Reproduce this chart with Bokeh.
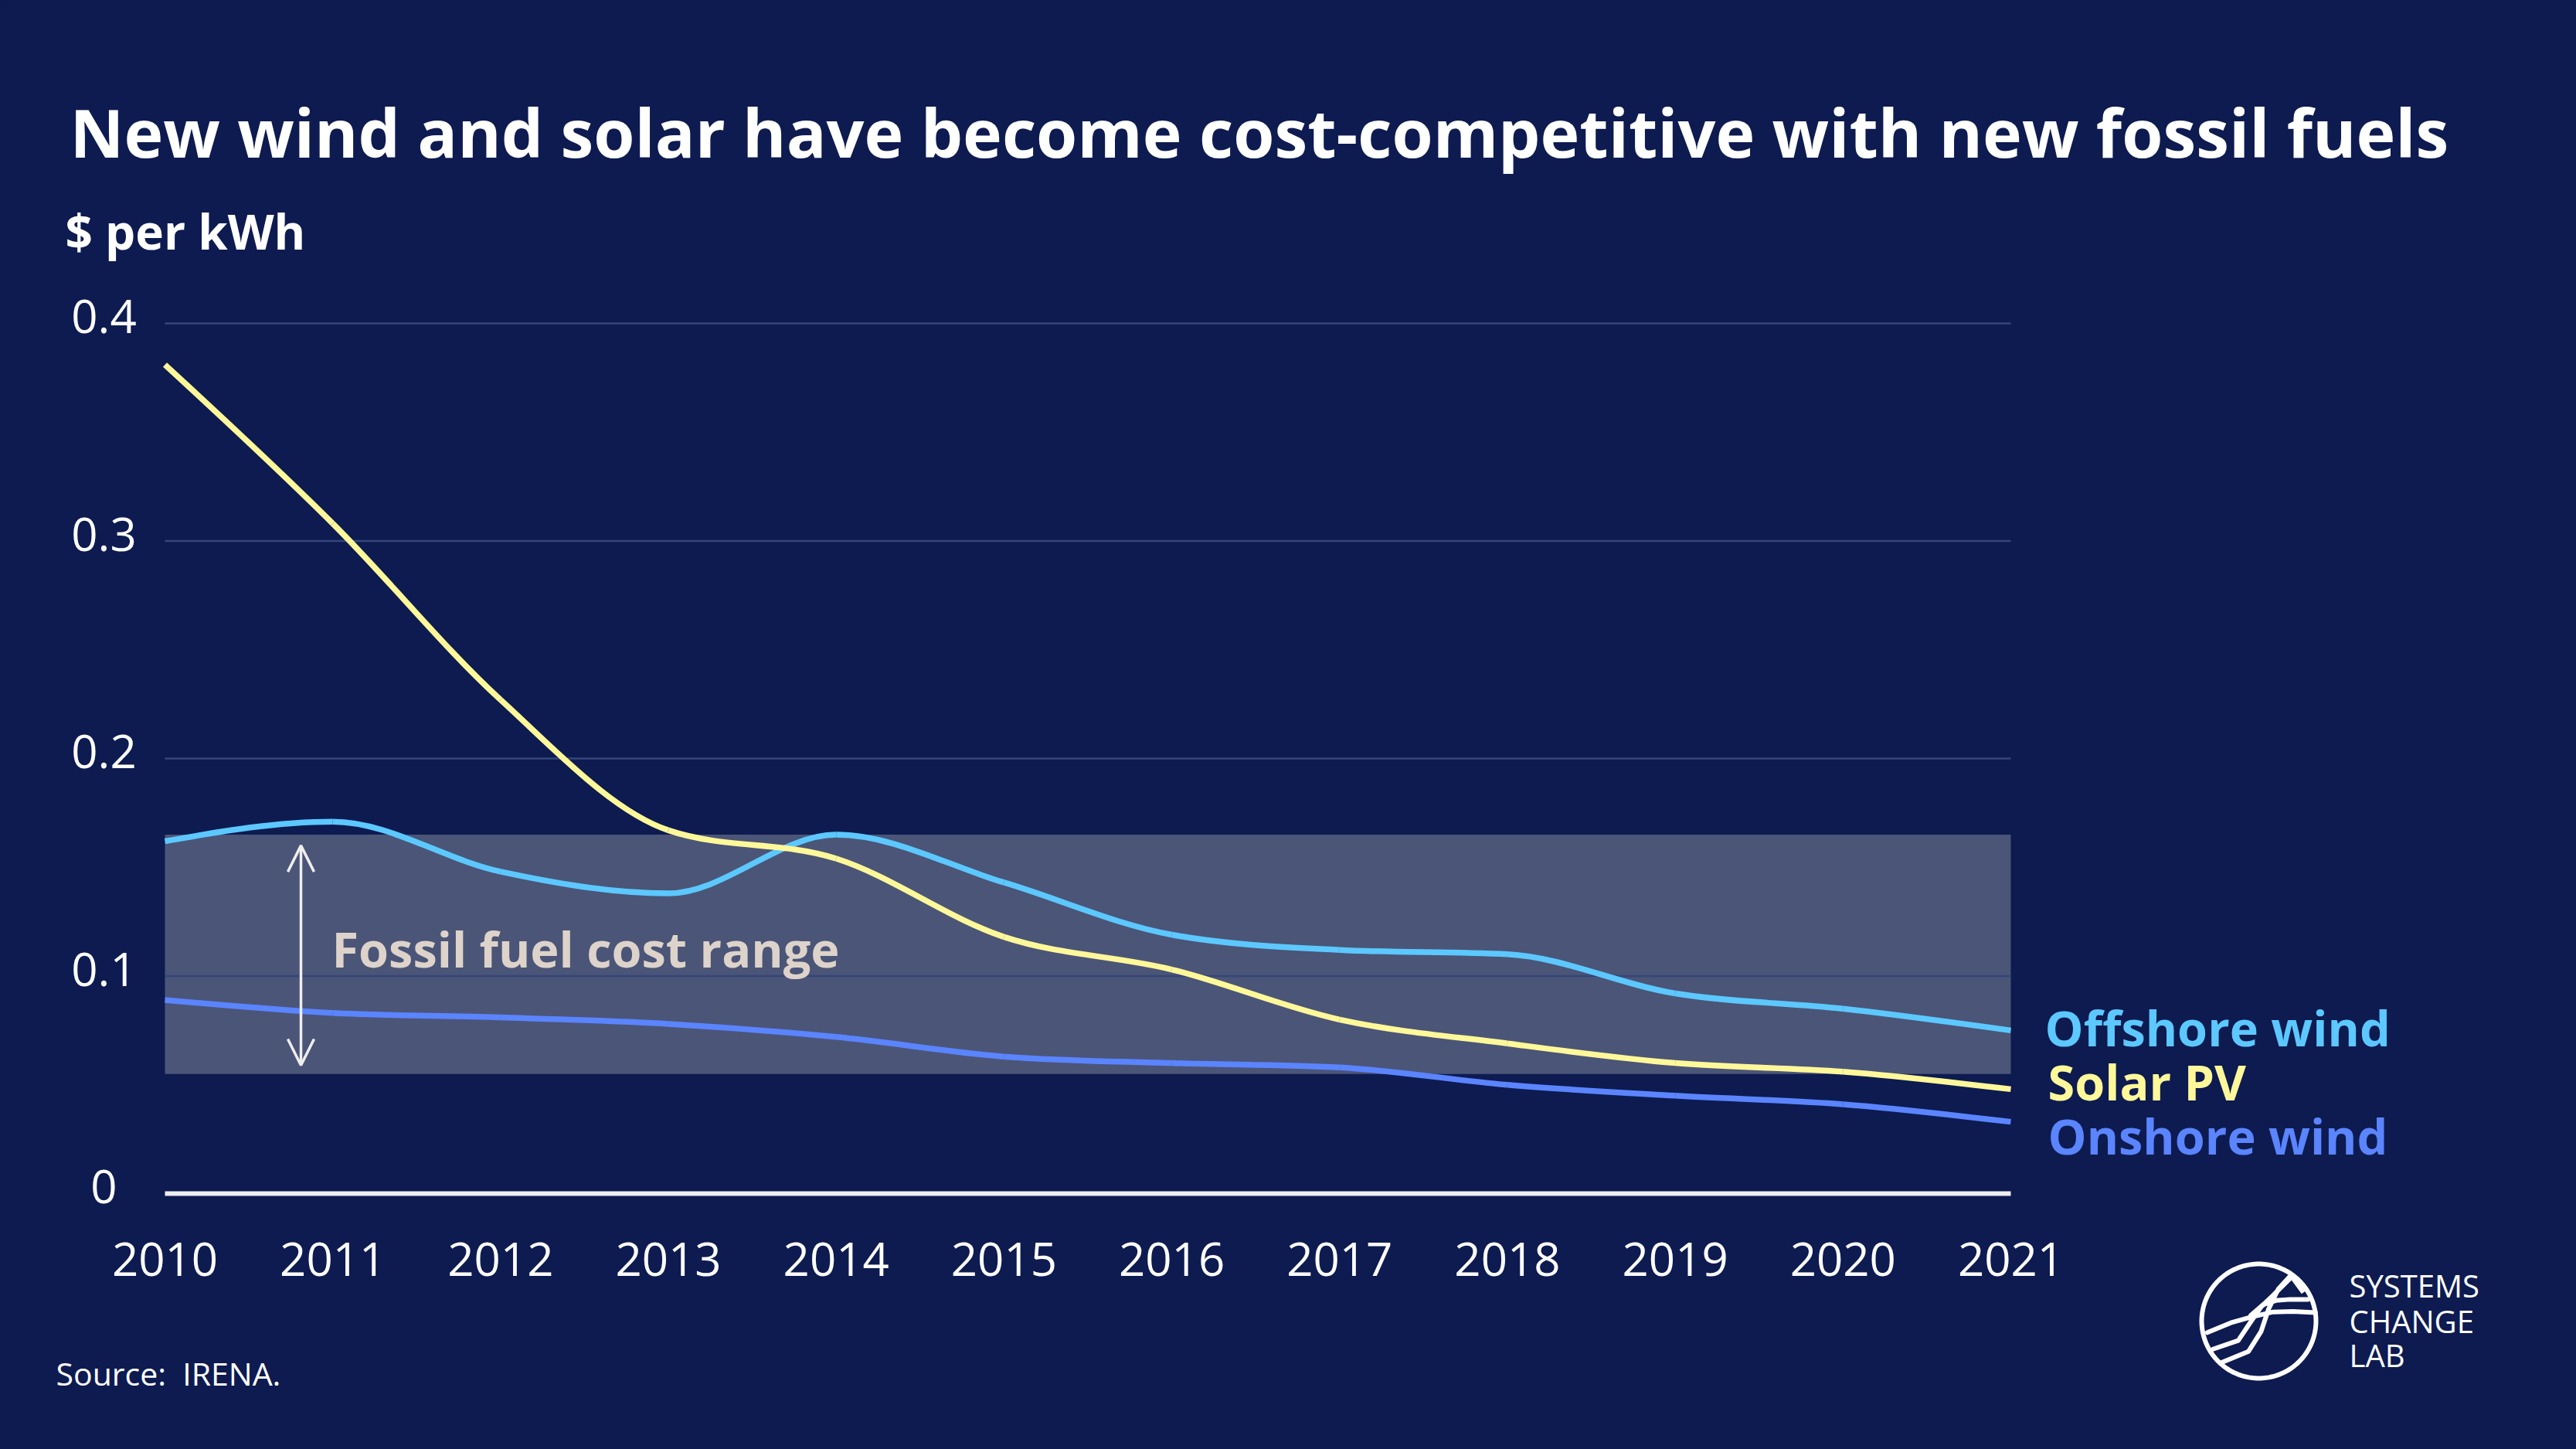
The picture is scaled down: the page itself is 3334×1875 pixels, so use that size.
import math
from bokeh.plotting import figure
from bokeh.models import Label, Arrow, OpenHead, PolyAnnotation, Range1d, ColumnDataSource
from bokeh.core.properties import value
from bokeh.embed import file_html
from bokeh.resources import INLINE

# ---------------- data ----------------
years = [2010, 2011, 2012, 2013, 2014, 2015, 2016, 2017, 2018, 2019, 2020, 2021]
year_labels = [str(y) for y in years]
solar_pv = [0.381, 0.308, 0.227, 0.167, 0.154, 0.118, 0.103, 0.080, 0.069, 0.060, 0.056, 0.048]
offshore_wind = [0.162, 0.171, 0.148, 0.138, 0.165, 0.143, 0.119, 0.112, 0.110, 0.092, 0.085, 0.075]
onshore_wind = [0.089, 0.083, 0.081, 0.078, 0.072, 0.063, 0.060, 0.058, 0.050, 0.045, 0.041, 0.033]
fossil_low = 0.055
fossil_high = 0.165
y_ticks = [0, 0.1, 0.2, 0.3, 0.4]
y_tick_labels = ["0", "0.1", "0.2", "0.3", "0.4"]
series_names = ["Offshore wind", "Solar PV", "Onshore wind"]

# ---------------- style ----------------
BG = "#0d1b50"
C_OFF = "#5cc8ff"
C_SOLAR = "#fff89a"
C_ON = "#5b84ff"
BAND = "#4b5577"
GRID = "#34467a"
FONT = "Open Sans"
BASE_FIX = 0.38   # baseline correction (fraction of font size)

W, H = 3334, 1875
# where the data axes sit on the page (pixels)
PX_X_FIRST, PX_X_LAST = 213, 2602      # 2010 .. 2021
PX_Y_ZERO, PX_Y_TOP = 1544, 418        # 0 .. 0.4
SX = (PX_X_LAST - PX_X_FIRST) / (years[-1] - years[0])
SY = (PX_Y_ZERO - PX_Y_TOP) / y_ticks[-1]


def px2x(X):
    return years[0] + (X - PX_X_FIRST) / SX


def px2y(Y):
    return (PX_Y_ZERO - Y) / SY


p = figure(width=W, height=H, output_backend="svg", toolbar_location=None,
           x_range=Range1d(px2x(0), px2x(W)), y_range=Range1d(px2y(H), px2y(0)),
           x_axis_location=None, y_axis_location=None, min_border=0)
p.background_fill_color = BG
p.border_fill_color = BG
p.outline_line_color = None
p.grid.visible = False

# fossil fuel band
p.quad(left=[years[0]], right=[years[-1]], bottom=[fossil_low], top=[fossil_high],
       fill_color=BAND, line_color=None)

# horizontal gridlines
grid_vals = y_ticks[1:]
p.segment(x0=[years[0]] * len(grid_vals), x1=[years[-1]] * len(grid_vals),
          y0=grid_vals, y1=grid_vals, line_color=GRID, line_width=2.5)
# zero baseline
p.segment(x0=[years[0]], x1=[years[-1]], y0=[y_ticks[0]], y1=[y_ticks[0]],
          line_color="#eeeeee", line_width=6)

# tick labels
TICK_FS = 60
p.text(x=[px2x(134)] * len(y_ticks), y=y_ticks, text=y_tick_labels, y_offset=14 - BASE_FIX * TICK_FS,
       text_color="white", text_font=value(FONT), text_font_size=f"{TICK_FS}px",
       text_align="center", text_baseline="alphabetic")
p.text(x=years, y=[y_ticks[0]] * len(years), text=year_labels, y_offset=108 - BASE_FIX * TICK_FS,
       text_color="white", text_font=value(FONT), text_font_size=f"{TICK_FS}px",
       text_align="center", text_baseline="alphabetic")


# smooth (monotone-x) curves drawn as bezier segments
def monotone_segments(xs, ys):
    n = len(xs)
    h = [xs[i + 1] - xs[i] for i in range(n - 1)]
    s = [(ys[i + 1] - ys[i]) / h[i] for i in range(n - 1)]
    t = [0.0] * n

    def sgn(v):
        return (v > 0) - (v < 0)
    for i in range(1, n - 1):
        h0, h1 = h[i - 1], h[i]
        s0, s1 = s[i - 1], s[i]
        pp = (s0 * h1 + s1 * h0) / (h0 + h1)
        t[i] = (sgn(s0) + sgn(s1)) * min(abs(s0), abs(s1), 0.5 * abs(pp))
    t[0] = (3 * s[0] - t[1]) / 2
    t[-1] = (3 * s[-1] - t[-2]) / 2
    seg = dict(x0=[], y0=[], x1=[], y1=[], cx0=[], cy0=[], cx1=[], cy1=[])
    for i in range(n - 1):
        dx = h[i] / 3
        seg["x0"].append(xs[i]); seg["y0"].append(ys[i])
        seg["x1"].append(xs[i + 1]); seg["y1"].append(ys[i + 1])
        seg["cx0"].append(xs[i] + dx); seg["cy0"].append(ys[i] + dx * t[i])
        seg["cx1"].append(xs[i + 1] - dx); seg["cy1"].append(ys[i + 1] - dx * t[i + 1])
    return seg


for vals, col in ((onshore_wind, C_ON), (offshore_wind, C_OFF), (solar_pv, C_SOLAR)):
    sg = ColumnDataSource(monotone_segments(years, vals))
    p.bezier(x0="x0", y0="y0", x1="x1", y1="y1", cx0="cx0", cy0="cy0", cx1="cx1", cy1="cy1",
             source=sg, line_color=col, line_width=7.5, line_cap="butt")

# arrow for fossil range
arrow_x = px2x(389)
p.add_layout(Arrow(x_start=arrow_x, y_start=fossil_low + 0.004, x_end=arrow_x, y_end=fossil_high - 0.005,
                   line_color="#eeeeee", line_width=3.5,
                   start=OpenHead(size=34, line_color="#eeeeee", line_width=3.5),
                   end=OpenHead(size=34, line_color="#eeeeee", line_width=3.5)))


def add_label(text, X, Y, size, color="white", bold=False, align="left"):
    p.add_layout(Label(x=px2x(X), y=px2y(Y - BASE_FIX * size), text=text, text_color=color,
                       text_font=FONT, text_font_size=f"{size}px",
                       text_font_style="bold" if bold else "normal",
                       text_align=align, text_baseline="alphabetic"))


add_label("New wind and solar have become cost-competitive with new fossil fuels", 90, 203, 86, bold=True)
add_label("$ per kWh", 84, 322, 62, bold=True)
add_label("Fossil fuel cost range", 429, 1251, 63, color="#ddd3ca", bold=True)
add_label(series_names[0], 2646, 1353, 63, color=C_OFF, bold=True)
add_label(series_names[1], 2650, 1423, 63, color=C_SOLAR, bold=True)
add_label(series_names[2], 2650, 1493, 63, color=C_ON, bold=True)
add_label("Source:\u00a0 IRENA.", 72, 1792, 41)

# logo
add_label("SYSTEMS", 3040, 1678, 40)
add_label("CHANGE", 3040, 1724, 40)
add_label("LAB", 3040, 1768, 40)

LCX, LCY, LR = 2923, 1709, 74


def logo_poly(pts, closed=False):
    xs = [px2x(LCX + u * LR) for u, v in pts]
    ys = [px2y(LCY + v * LR) for u, v in pts]
    if not closed:
        xs = xs + xs[-2:0:-1]
        ys = ys + ys[-2:0:-1]
    p.add_layout(PolyAnnotation(xs=xs, ys=ys, fill_alpha=0, line_color="white", line_alpha=1.0,
                                line_width=6, line_join="round"))


circle_pts = [(math.cos(2 * math.pi * k / 90), math.sin(2 * math.pi * k / 90)) for k in range(90)]
logo_poly(circle_pts, closed=True)
logo_poly([(-0.90, 0.20), (-0.49, 0.03), (-0.14, -0.07), (0.25, -0.16), (0.60, -0.17), (0.99, -0.15)])
logo_poly([(-0.14, -0.10), (0.08, -0.29), (0.30, -0.36), (0.55, -0.38), (0.86, -0.38)])
logo_poly([(-0.80, 0.49), (-0.36, 0.34), (-0.14, 0.01), (0.04, -0.25), (0.25, -0.45), (0.58, -0.78)])
logo_poly([(-0.64, 0.72), (-0.18, 0.53), (0.04, 0.18), (0.17, -0.21), (0.34, -0.56), (0.56, -0.80)])
logo_poly([(0.56, -0.80), (0.78, -0.50)])

template = """{% block preamble %}<style>html, body { background-color: #0d1b50; }</style>{% endblock %}"""
open("out.html", "w").write(file_html(p, INLINE, template=template))
